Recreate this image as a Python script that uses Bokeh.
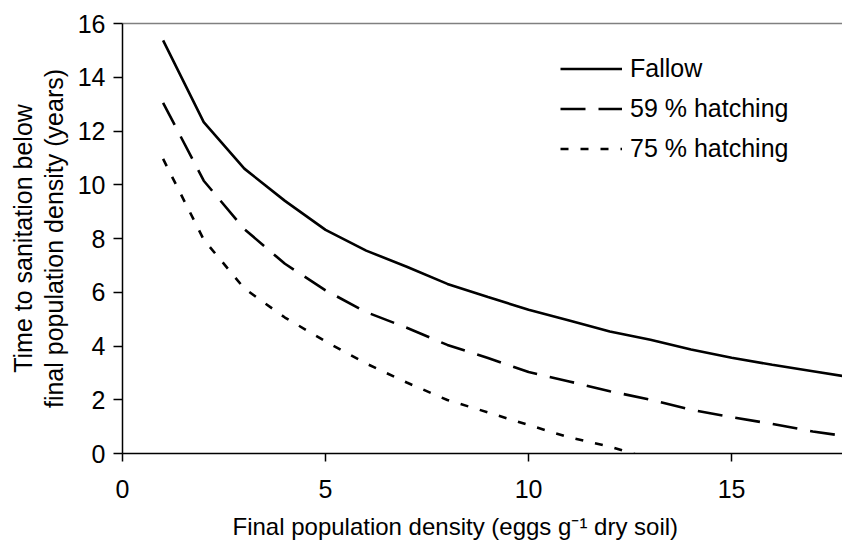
from bokeh.plotting import figure
from bokeh.models import Range1d, LinearAxis, FixedTicker, Legend, LegendItem, Title
from bokeh.embed import file_html
from bokeh.resources import INLINE

# ---- data ----
x_fallow = [1, 2, 3, 4, 5, 6, 7, 8, 9, 10, 11, 12, 13, 14, 15, 16, 17, 18]
fallow = [15.37, 12.33, 10.6, 9.4, 8.32, 7.55, 6.95, 6.31, 5.82, 5.35,
          4.95, 4.54, 4.23, 3.87, 3.56, 3.3, 3.06, 2.82]

x_h59 = [1, 2, 3, 4, 5, 6, 7, 8, 9, 10, 11, 12, 13, 14, 15, 16, 17, 18]
hatch59 = [13.05, 10.15, 8.35, 7.06, 6.07, 5.26, 4.68, 4.04, 3.55, 3.03,
           2.68, 2.32, 2.0, 1.63, 1.35, 1.1, 0.82, 0.6]

x_h75 = [1, 2, 3, 4, 5, 6, 7, 8, 9, 10, 11, 12, 13]
hatch75 = [10.96, 7.96, 6.14, 5.06, 4.17, 3.35, 2.64, 1.99, 1.53, 1.06,
           0.6, 0.26, -0.2]

series_labels = ["Fallow", "59 % hatching", "75 % hatching"]
x_ticks = [0, 5, 10, 15]
y_ticks = [0, 2, 4, 6, 8, 10, 12, 14, 16]

x_title = "Final population density (eggs g\u207b\u00b9 dry soil)"
y_title = "Time to sanitation below\nfinal population density (years)"

FONT = "Liberation Sans"
FS = "25px"

p = figure(width=842, height=551, output_backend="svg", toolbar_location=None,
           x_range=Range1d(0, 17.73), y_range=Range1d(0, 16),
           min_border_left=122, min_border_right=0, min_border_top=23,
           min_border_bottom=98)
p.outline_line_color = None
p.xgrid.grid_line_color = None
p.ygrid.grid_line_color = None
p.background_fill_color = "white"
p.border_fill_color = "white"

r1 = p.line(x_fallow, fallow, line_color="black", line_width=2.6)
r2 = p.line(x_h59, hatch59, line_color="black", line_width=2.6, line_dash="25 13")
r3 = p.line(x_h75, hatch75, line_color="black", line_width=2.6, line_dash="8 12")

for ax, ticks in ((p.xaxis[0], x_ticks), (p.yaxis[0], y_ticks)):
    ax.ticker = FixedTicker(ticks=ticks)
    ax.axis_line_color = "black"
    ax.axis_line_width = 1.5
    ax.major_tick_line_color = "black"
    ax.major_tick_line_width = 1.5
    ax.major_tick_in = 0
    ax.minor_tick_line_color = None
    ax.major_label_text_font = FONT
    ax.major_label_text_font_size = FS
    ax.major_label_text_color = "black"

p.xaxis.major_tick_out = 8
p.xaxis.major_label_standoff = 18
p.yaxis.major_tick_out = 9
p.yaxis.major_label_standoff = 8

p.yaxis.axis_label = y_title
p.yaxis.axis_label_text_font = FONT
p.yaxis.axis_label_text_font_size = FS
p.yaxis.axis_label_text_font_style = "normal"
p.yaxis.axis_label_text_color = "black"
p.yaxis.axis_label_text_line_height = 1.1
p.yaxis.axis_label_standoff = 7

# top frame line (grey)
top = LinearAxis(ticker=FixedTicker(ticks=[]), axis_line_color="#808080",
                 axis_line_width=1.5, major_tick_line_color=None,
                 minor_tick_line_color=None, major_label_text_font_size="0px")
p.add_layout(top, "above")

# x-axis title as a below title (allows horizontal offset)
p.add_layout(Title(text=x_title, align="left", offset=110, text_font=FONT,
                   text_font_size="24px", text_font_style="normal",
                   text_color="black", standoff=21), "below")

legend = Legend(items=[LegendItem(label=series_labels[0], renderers=[r1]),
                       LegendItem(label=series_labels[1], renderers=[r2]),
                       LegendItem(label=series_labels[2], renderers=[r3])],
                location=(438, 285), orientation="vertical",
                glyph_width=62, glyph_height=39, label_height=39, spacing=1,
                label_standoff=8, padding=0, margin=0,
                border_line_color=None, background_fill_alpha=0,
                label_text_font=FONT, label_text_font_size=FS,
                label_text_color="black")
p.add_layout(legend, "center")

open("out.html", "w").write(file_html(p, INLINE))
